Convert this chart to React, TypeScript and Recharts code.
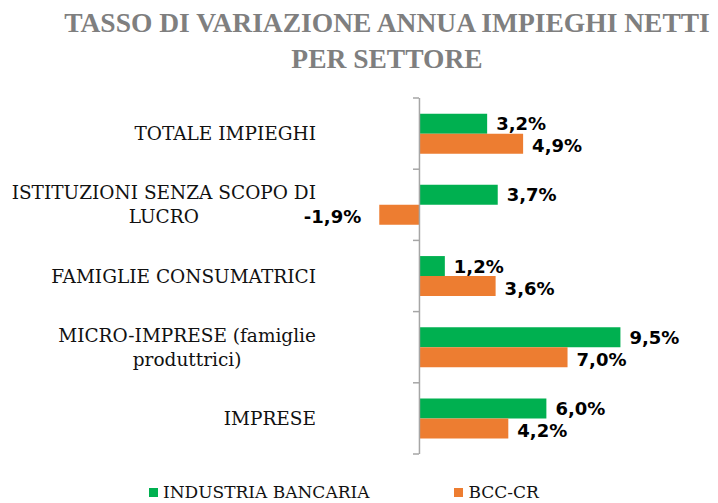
import React from "react";
import { BarChart, Bar, XAxis, YAxis, ReferenceLine, LabelList, Legend } from "recharts";

const categories = [
  "TOTALE IMPIEGHI",
  "ISTITUZIONI SENZA SCOPO DI LUCRO",
  "FAMIGLIE CONSUMATRICI",
  "MICRO-IMPRESE (famiglie produttrici)",
  "IMPRESE",
];
const categoryLines = [
  ["TOTALE IMPIEGHI"],
  ["ISTITUZIONI SENZA SCOPO DI", "LUCRO"],
  ["FAMIGLIE CONSUMATRICI"],
  ["MICRO-IMPRESE (famiglie", "produttrici)"],
  ["IMPRESE"],
];
const industriaBancaria = [3.2, 3.7, 1.2, 9.5, 6.0];
const bccCr = [4.9, -1.9, 3.6, 7.0, 4.2];
const seriesNames = ["INDUSTRIA BANCARIA", "BCC-CR"];
const titleLines = ["TASSO DI VARIAZIONE ANNUA IMPIEGHI NETTI", "PER SETTORE"];

const GREEN = "#00b050";
const ORANGE = "#ed7d31";
const AXIS = "#a6a6a6";
const LABEL_SIZE = 18.5;
const LABEL_FONT = `${LABEL_SIZE}px "DejaVu Serif"`;

const data = categories.map((name, i) => ({
  name,
  ib: industriaBancaria[i],
  bcc: bccCr[i],
}));

const MARGIN = { top: 98, right: 87, bottom: 49, left: 0 };
const HEIGHT = 503;
const BAND = (HEIGHT - MARGIN.top - MARGIN.bottom) / categories.length;

let measureCtx: CanvasRenderingContext2D | null = null;
function measure(text: string) {
  if (!measureCtx) {
    measureCtx = document.createElement("canvas").getContext("2d");
  }
  if (!measureCtx) return text.length * 11;
  measureCtx.font = LABEL_FONT;
  return measureCtx.measureText(text).width;
}

const fmt = (v: number) => `${v.toFixed(1).replace(".", ",")}%`;

function CategoryTick(props: any) {
  const { y, payload, index } = props;
  const idx = categories.indexOf(payload.value);
  const lines = categoryLines[idx] || [payload.value];
  const right = 316;
  const maxW = Math.max(...lines.map(measure));
  const cx = right - maxW / 2;
  const lh = 24;
  const y0 = y - ((lines.length - 1) * lh) / 2;
  return (
    <g>
      {lines.map((l, i) => (
        <text
          key={i}
          x={cx}
          y={y0 + i * lh}
          textAnchor="middle"
          dominantBaseline="central"
          fontFamily="DejaVu Serif"
          fontSize={LABEL_SIZE}
          fill="#111"
        >
          {l}
        </text>
      ))}
      <line x1={413} x2={419} y1={y - BAND / 2} y2={y - BAND / 2} stroke={AXIS} strokeWidth={1.5} />
      {index === categories.length - 1 && (
        <line x1={413} x2={419} y1={y + BAND / 2} y2={y + BAND / 2} stroke={AXIS} strokeWidth={1.5} />
      )}
    </g>
  );
}

const valueLabel = (dy: number) => (props: any) => {
  const { x, y, width, height, value } = props;
  const left = Math.min(x, x + width);
  const right = Math.max(x, x + width);
  const neg = value < 0;
  return (
    <text
      x={neg ? left - 18 : right + 9}
      y={y + height / 2 + dy}
      textAnchor={neg ? "end" : "start"}
      dominantBaseline="central"
      fontFamily="DejaVu Sans"
      fontWeight="bold"
      fontSize={18}
      fill="#000"
    >
      {fmt(value)}
    </text>
  );
};

function LegendContent() {
  const colors = [GREEN, ORANGE];
  return (
    <div style={{ display: "flex", alignItems: "center", marginLeft: 149 }}>
      {seriesNames.map((n, i) => (
        <div
          key={n}
          style={{ display: "flex", alignItems: "center", marginRight: i === 0 ? 85 : 0 }}
        >
          <span style={{ width: 9, height: 9, background: colors[i], marginRight: 5 }} />
          <span style={{ fontFamily: "DejaVu Serif", fontSize: 17, color: "#111", lineHeight: "20px" }}>{n}</span>
        </div>
      ))}
    </div>
  );
}

export default function App() {
  return (
    <div
      style={{
        position: "absolute",
        left: 0,
        top: 0,
        width: 718,
        height: HEIGHT,
        overflow: "hidden",
        background: "#fff",
      }}
    >
      <div
        style={{
          position: "absolute",
          left: 28,
          top: 5,
          width: 718,
          textAlign: "center",
          fontFamily: '"Liberation Serif", serif',
          fontWeight: "bold",
          fontSize: 27.5,
          lineHeight: "36px",
          color: "#7f7f7f",
          zIndex: 2,
        }}
      >
        {titleLines.map((t) => (
          <div key={t}>{t}</div>
        ))}
      </div>
      <BarChart
        width={718}
        height={HEIGHT}
        data={data}
        layout="vertical"
        margin={MARGIN}
        barCategoryGap="22%"
        barGap={0}
      >
        <XAxis type="number" domain={[-3, 10]} hide />
        <YAxis
          type="category"
          dataKey="name"
          width={356}
          axisLine={false}
          tickLine={false}
          tick={<CategoryTick />}
          interval={0}
        />
        <Bar dataKey="ib" name={seriesNames[0]} fill={GREEN} isAnimationActive={false}>
          <LabelList dataKey="ib" content={valueLabel(0)} />
        </Bar>
        <Bar dataKey="bcc" name={seriesNames[1]} fill={ORANGE} isAnimationActive={false}>
          <LabelList dataKey="bcc" content={valueLabel(2)} />
        </Bar>
        <ReferenceLine x={0} stroke={AXIS} strokeWidth={1.5} />
        <Legend
          layout="horizontal"
          verticalAlign="middle"
          align="center"
          content={<LegendContent />}
          wrapperStyle={{ top: 482, left: 0, width: 718 }}
        />
      </BarChart>
    </div>
  );
}
